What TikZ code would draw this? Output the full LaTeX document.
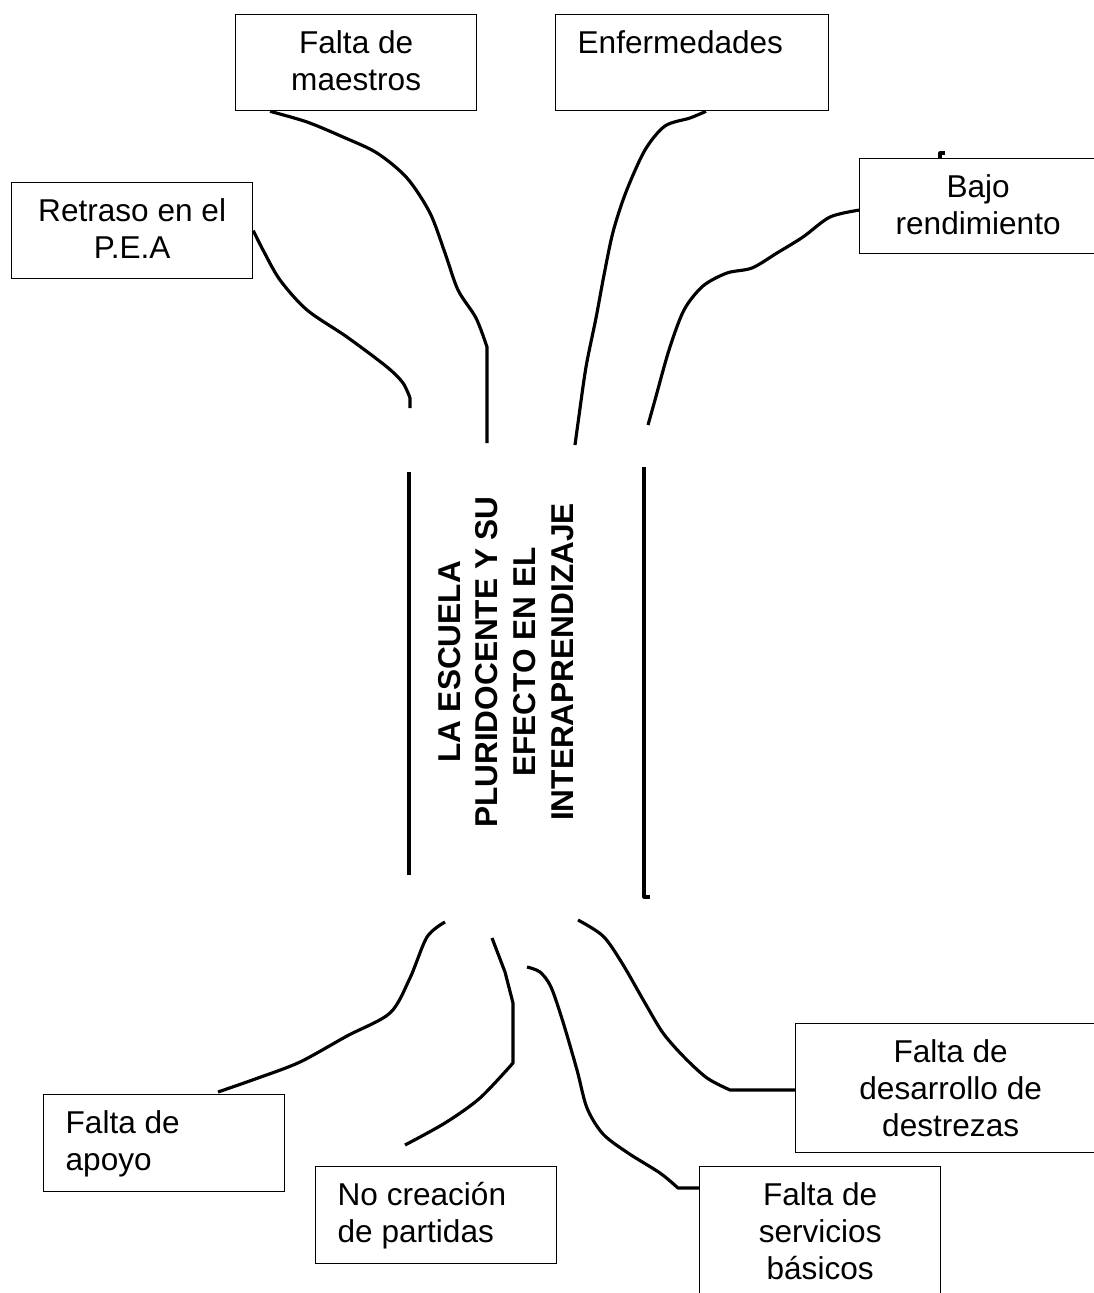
\documentclass[tikz,border=0pt]{standalone}
\usepackage{fontspec}
\setmainfont{Liberation Sans}
\usepackage{tikz}
\usetikzlibrary{calc}
\usetikzlibrary{positioning}
\newlength{\upx}
\setlength{\upx}{0.38pt}
\newcommand{\textocaja}[3]{\parbox[t][#2\upx][t]{#1\upx}{\rule{0pt}{39\upx}#3}}
\tikzset{caja/.style = {draw, line width = 0.5pt, inner xsep = 22\upx, inner ysep = 0pt, anchor = north west,
                        font = \fontsize{12}{14.06}\selectfont},
         rama/.style = {line width = 1.2pt, line join = round}}

\begin{document}
\begin{tikzpicture}[x=0.38pt, y=-0.38pt]
        \useasboundingbox (0,0) rectangle (1094,1293);
        % causas
        \node[caja] (maestros) at (235,14) {\textocaja{197}{96}{\centering Falta de\\maestros}};
        \node[caja] (enfermedades) at (555,14) {\textocaja{229}{96}{Enfermedades}};
        \node[caja] (retraso) at (11,182) {\textocaja{197}{96}{\centering Retraso en el\\P.E.A}};
        \node[caja] (bajo) at (859,158) {\textocaja{201}{95}{\centering \hspace*{-8\upx}Bajo\\\hspace*{-8\upx}rendimiento}};
        % efectos
        \node[caja] (apoyo) at (43,1094) {\textocaja{197}{97}{Falta de\\apoyo}};
        \node[caja] (nocreacion) at (315,1166) {\textocaja{197}{97}{No creación\\de partidas}};
        \node[caja] (servicios) at (699,1166) {\textocaja{197}{140}{\centering Falta de\\servicios\\básicos}};
        \node[caja] (destrezas) at (795,1023) {\textocaja{266}{129}{\centering Falta de\\desarrollo de\\destrezas}};
        % tema central
        \node[rotate=90, align=center, inner sep=0, font=\fontsize{12}{14.4}\selectfont\bfseries] (tema) at (506,662)
            {LA ESCUELA\\PLURIDOCENTE Y SU\\EFECTO EN EL\\INTERAPRENDIZAJE};
        \draw[rama] (409,472) -- (409,875);
        \draw[rama] (644,467) -- (644,897) -- (650,897);

        \coordinate (finRetraso) at (410,408);
        \coordinate (finMaestros) at (487,443);
        \coordinate (finEnfermedades) at (575,445);
        \coordinate (finBajo) at (648,425);
        \coordinate (finApoyo) at (445,922);
        \coordinate (finNocreacion) at (492,938);
        \coordinate (iniNocreacion) at (405,1145);
        \coordinate (finServicios) at (527,967);
        \coordinate (finDestrezas) at (578,920);

        \draw[rama] plot[smooth] coordinates {(retraso.east) (263,250) (280,280) (307,310) (347,337) (387,367) (403,383) (410,398)} -- (finRetraso);
        \draw[rama] plot[smooth] coordinates {($(maestros.south west)+(35,0)$) (307,122) (343,137) (377,153) (407,178) (430,213) (445,253) (458,290) (476,318) (487,347)} -- (finMaestros);
        \draw[rama] plot[smooth] coordinates {($(enfermedades.south west)+(151,0)$) (690,118) (665,126) (645,150) (626,192) (613,232) (604,275) (596,318) (586,367) (578,423) (finEnfermedades)};
        \draw[rama] plot[smooth] coordinates {($(bajo.west)+(0,4)$) (830,217) (803,237) (777,253) (752,268) (727,273) (703,286) (684,310) (669,350) (655,400) (finBajo)};
        \draw[rama] (945,153) -- (940,153) -- (940,158);

        \draw[rama] plot[smooth] coordinates {($(apoyo.north west)+(175,-2)$) (258,1078) (300,1062) (347,1036) (390,1013) (410,978) (427,937) (finApoyo)};
        \draw[rama] plot[smooth] coordinates {(iniNocreacion) (445,1123) (480,1098) (513,1063)} -- (513,1003) -- (505,972) -- (finNocreacion);
        \draw[rama] ($(servicios.north west)+(0,22)$) -- (678,1188) -- plot[smooth] coordinates {(678,1188) (660,1173) (628,1153) (603,1134) (587,1108) (577,1070) (563,1022) (551,987) (540,972) (finServicios)};
        \draw[rama] ($(destrezas.north west)+(0,67)$) -- (730,1090) -- plot[smooth] coordinates {(730,1090) (707,1078) (684,1057) (663,1033) (645,1003) (622,963) (603,936) (finDestrezas)};
    \end{tikzpicture}
\end{document}
